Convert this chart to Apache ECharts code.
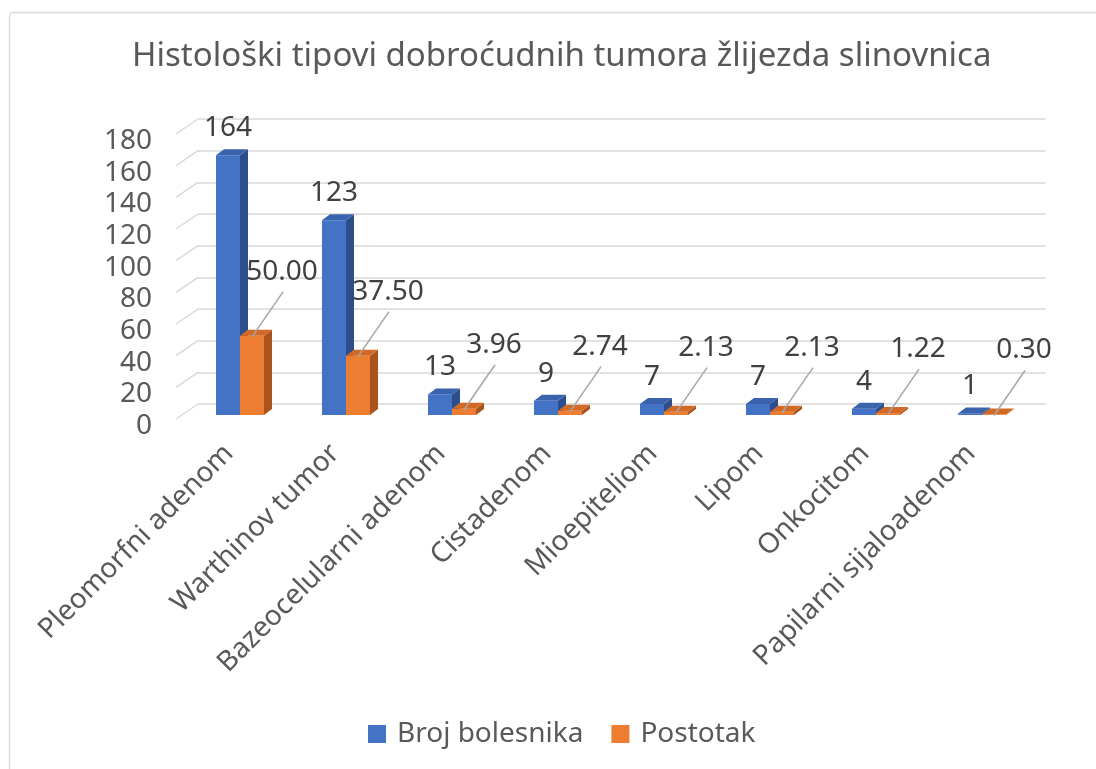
<!DOCTYPE html>
<html style="height: 100%">
<head>
    <meta charset="utf-8">
    <script src="https://cdn.jsdelivr.net/npm/echarts@6.0.0/dist/echarts.min.js"></script>
</head>
<body style="height: 100%; margin: 0; background: #fff">
    <div id="container" style="height: 100%"></div>
    <script type="text/javascript">
        var myChart = echarts.init(document.getElementById('container'));

        // data
        var categories = ['Pleomorfni adenom', 'Warthinov tumor', 'Bazeocelularni adenom', 'Cistadenom',
            'Mioepiteliom', 'Lipom', 'Onkocitom', 'Papilarni sijaloadenom'];
        var brojBolesnika = [164, 123, 13, 9, 7, 7, 4, 1];
        var postotak = [50.00, 37.50, 3.96, 2.74, 2.13, 2.13, 1.22, 0.30];
        var yTicks = [0, 20, 40, 60, 80, 100, 120, 140, 160, 180];

        const blue = { front: '#4472c4', side: '#2d4e8c', top: '#3a63ad' };
        const orange = { front: '#ed7d31', side: '#a9541d', top: '#d26a26' };
        const font = 'Noto Sans', textColor = '#404040';

        // fake 3D box: front face, side, top
        function boxItem(colors, left, isPct) {
            return function (params, api) {
                var idx = api.value(0), v = api.value(1);
                var top = api.coord([idx, v]), base = api.coord([idx, 0]);
                var bw = 24, dx = 8, dy = 6;
                var x0 = top[0] - 11 - (left ? bw : 0);
                var y0 = top[1] + 11, y1 = base[1] + 11;
                var cx = x0 + bw / 2;
                var kids = [
                    { type: 'polygon', shape: { points: [[x0 + bw, y0], [x0 + bw + dx, y0 - dy], [x0 + bw + dx, y1 - dy], [x0 + bw, y1]] },
                      style: { fill: colors.side } },
                    { type: 'rect', shape: { x: x0, y: y0, width: bw, height: y1 - y0 }, style: { fill: colors.front } },
                    { type: 'polygon', shape: { points: [[x0, y0], [x0 + bw, y0], [x0 + bw + dx, y0 - dy], [x0 + dx, y0 - dy]] },
                      style: { fill: colors.top } }
                ];
                if (isPct) {
                    kids.push({ type: 'line', shape: { x1: cx, y1: y0 + 1, x2: cx + 31, y2: y0 - 44 },
                        style: { stroke: '#a6a6a6', lineWidth: 1.5 } });
                    kids.push({ type: 'text', x: cx + 30, y: y0 - 64,
                        style: { text: v.toFixed(2), fontSize: 28, fontFamily: font, fill: textColor, align: 'center', verticalAlign: 'middle' } });
                } else {
                    kids.push({ type: 'text', x: cx, y: y0 - 27,
                        style: { text: String(v), fontSize: 28, fontFamily: font, fill: textColor, align: 'center', verticalAlign: 'middle' } });
                }
                return { type: 'group', children: kids };
            };
        }

        option = {
            backgroundColor: '#fff',
            animation: false,
            textStyle: { fontFamily: font },
            graphic: [{
                type: 'rect', left: 7, top: 10, shape: { width: 1110, height: 780, r: 4 },
                style: { fill: 'none', stroke: '#d9d9d9', lineWidth: 1.5 }, silent: true
            }],
            title: {
                text: 'Histološki tipovi dobroćudnih tumora žlijezda slinovnica',
                left: 127, top: 35,
                textStyle: { fontSize: 33, fontWeight: 'normal', color: '#595959', fontFamily: font }
            },
            legend: {
                data: ['Broj bolesnika', 'Postotak'],
                bottom: 16, left: 363,
                icon: 'rect', itemWidth: 18, itemHeight: 18, itemGap: 28,
                textStyle: { fontSize: 28, color: '#595959', fontFamily: font, padding: [0, 0, 0, 6] }
            },
            grid: [
                // back wall
                { left: 198, right: 50, top: 119, bottom: 365 },
                // front plane (category labels)
                { left: 176, right: 72, top: 134, bottom: 350 },
                // value labels, a little lower
                { left: 176, right: 72, top: 141, bottom: 343 }
            ],
            xAxis: [
                { type: 'category', gridIndex: 0, data: categories,
                  axisLine: { show: false }, axisTick: { show: false }, axisLabel: { show: false } },
                { type: 'category', gridIndex: 1, data: categories,
                  axisLine: { show: false }, axisTick: { show: false },
                  axisLabel: { rotate: 45, fontSize: 28, color: '#595959', fontFamily: font, margin: 30, interval: 0 } },
                { type: 'category', gridIndex: 2, data: categories, show: false }
            ],
            yAxis: [
                { type: 'value', gridIndex: 0, min: 0, max: 180, interval: 20,
                  axisLabel: { show: false },
                  splitLine: { lineStyle: { color: '#d9d9d9', width: 1.5 } } },
                { type: 'value', gridIndex: 1, min: 0, max: 180, interval: 20, show: false },
                { type: 'value', gridIndex: 2, min: 0, max: 180, interval: 20,
                  axisLabel: { fontSize: 28, color: '#595959', fontFamily: font, margin: 24 },
                  splitLine: { show: false } }
            ],
            series: [
                {
                    name: 'diag', type: 'custom', xAxisIndex: 0, yAxisIndex: 0, silent: true,
                    data: yTicks.map(function (v) { return [0, v]; }),
                    renderItem: function (params, api) {
                        var y = api.coord([0, api.value(1)])[1];
                        var x = params.coordSys.x;
                        return { type: 'line', shape: { x1: x, y1: y, x2: x - 22, y2: y + 15 },
                                 style: { stroke: '#d9d9d9', lineWidth: 1.5 } };
                    }
                },
                {
                    name: 'Broj bolesnika', type: 'custom', xAxisIndex: 0, yAxisIndex: 0,
                    itemStyle: { color: blue.front },
                    data: brojBolesnika.map(function (v, i) { return [i, v]; }),
                    renderItem: boxItem(blue, true, false)
                },
                {
                    name: 'Postotak', type: 'custom', xAxisIndex: 0, yAxisIndex: 0,
                    itemStyle: { color: orange.front },
                    data: postotak.map(function (v, i) { return [i, v]; }),
                    renderItem: boxItem(orange, false, true)
                }
            ]
        };

        myChart.setOption(option);
        window.addEventListener('resize', function () { myChart.resize(); });
    </script>
</body>
</html>
